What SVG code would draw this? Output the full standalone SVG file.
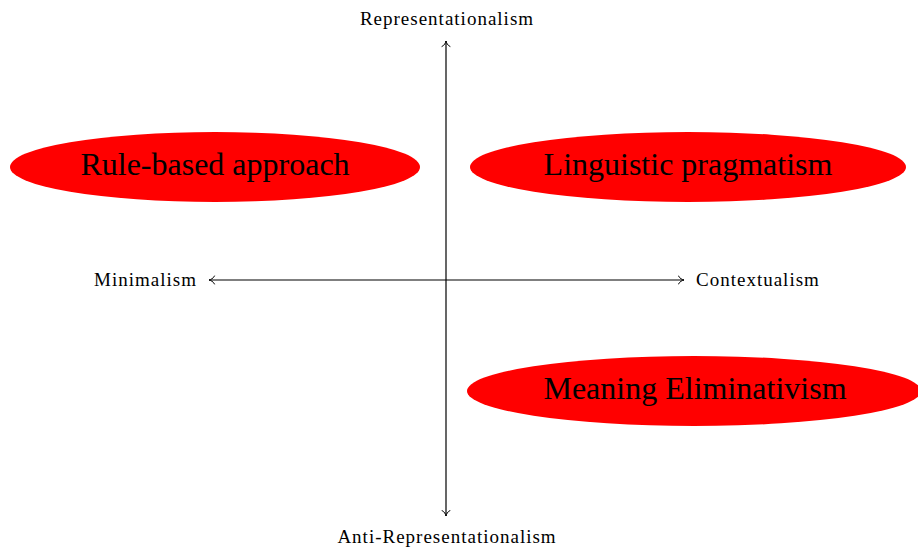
<svg xmlns="http://www.w3.org/2000/svg" width="918" height="556" viewBox="0 0 918 556">
  <style>
    .axis { stroke: #000; stroke-width: 1.2; fill: none; }
    .lbl { font-family: "Liberation Serif", "Times New Roman", serif; font-size: 19px; letter-spacing: 1px; fill: #000; }
    .node ellipse { fill: #ff0000; }
    .node text { font-family: "Liberation Serif", "Times New Roman", serif; font-size: 32px; fill: #000; text-anchor: middle; dominant-baseline: central; }
  </style>
  <defs>
    <marker id="tip" viewBox="-6 -5 8 10" refX="0.5" refY="0" markerWidth="8" markerHeight="10" markerUnits="userSpaceOnUse" orient="auto-start-reverse">
      <path d="M -5 -4 C -4 -1.5 -1 -0.4 0.5 0 C -1 0.4 -4 1.5 -5 4" fill="none" stroke="#000" stroke-width="1" stroke-linecap="round"/>
    </marker>
  </defs>

  <g id="connectors">
    <line class="axis" x1="446" y1="516" x2="446" y2="41" marker-start="url(#tip)" marker-end="url(#tip)"/>
    <line class="axis" x1="209" y1="280" x2="684" y2="280" marker-start="url(#tip)" marker-end="url(#tip)"/>
  </g>

  <g id="axis-labels">
    <text class="lbl" x="447" y="25" text-anchor="middle">Representationalism</text>
    <text class="lbl" x="447" y="543" text-anchor="middle">Anti-Representationalism</text>
    <text class="lbl" x="197" y="286" text-anchor="end">Minimalism</text>
    <text class="lbl" x="696" y="286" text-anchor="start">Contextualism</text>
  </g>

  <g id="rule-based" class="node">
    <ellipse cx="215" cy="167" rx="205" ry="35"/>
    <text x="215" y="164">Rule-based approach</text>
  </g>
  <g id="linguistic-pragmatism" class="node">
    <ellipse cx="688" cy="167" rx="218" ry="35"/>
    <text x="688" y="164">Linguistic pragmatism</text>
  </g>
  <g id="meaning-eliminativism" class="node">
    <ellipse cx="694" cy="391" rx="227" ry="35"/>
    <text x="695" y="388">Meaning Eliminativism</text>
  </g>
</svg>
